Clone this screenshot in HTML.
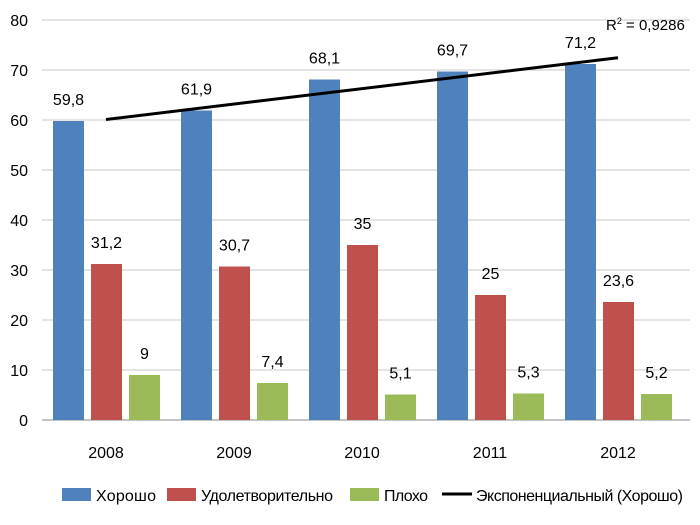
<!DOCTYPE html>
<html><head><meta charset="utf-8">
<style>
body{margin:0;background:#fff;}
svg{display:block;font-family:"Liberation Sans",sans-serif;}
</style></head>
<body>
<svg id="chart" width="700" height="525" viewBox="0 0 700 525">
<g id="grid"></g>
<g id="yticks"></g>
<g id="bars"></g>
<g id="labels"></g>
<g id="xticks"></g>
<g id="trend"></g>
<g font-size="16" fill="#000">
  <rect x="62" y="488" width="29" height="13" fill="#4F81BD"/>
  <text x="96" y="501" transform="scale(1,1)" textLength="60">Хорошо</text>
  <rect x="167" y="488" width="29" height="13" fill="#C0504D"/>
  <text x="201" y="501" textLength="132">Удолетворительно</text>
  <rect x="350" y="488" width="29" height="13" fill="#9BBB59"/>
  <text x="384" y="501" textLength="44">Плохо</text>
  <line x1="442" y1="494" x2="472" y2="494" stroke="#000" stroke-width="3"/>
  <text x="476" y="501" textLength="207">Экспоненциальный (Хорошо)</text>
</g>
<text x="606" y="30" font-size="15" fill="#000">R<tspan font-size="9" dy="-6">2</tspan><tspan dy="6"> = 0,9286</tspan></text>
</svg>
<script>
const categories=["2008","2009","2010","2011","2012"];
const good=[59.8,61.9,68.1,69.7,71.2];
const satisfactory=[31.2,30.7,35,25,23.6];
const bad=[9,7.4,5.1,5.3,5.2];
const goodLabels=["59,8","61,9","68,1","69,7","71,2"];
const satLabels=["31,2","30,7","35","25","23,6"];
const badLabels=["9","7,4","5,1","5,3","5,2"];
const yTicks=[0,10,20,30,40,50,60,70,80];

const NS="http://www.w3.org/2000/svg";
const x0=42,x1=682,yBase=420,yTop=20,yMax=80;
const bw=(x1-x0)/categories.length;
const Y=v=>yBase-(v/yMax)*(yBase-yTop);
const cx=i=>x0+bw*(i+0.5);
function mk(tag,attrs,parent){const e=document.createElementNS(NS,tag);for(const k in attrs)e.setAttribute(k,attrs[k]);parent.appendChild(e);return e;}
const grid=document.getElementById('grid'),yt=document.getElementById('yticks');
yTicks.forEach(t=>{
  const l=mk('line',{x1:x0,x2:690,y1:Y(t),y2:Y(t),stroke:t===0?'#888':'#c8c8c8','stroke-width':1},grid);
  
  
  const tx=mk('text',{x:28,y:Y(t)+6,'text-anchor':'end','font-size':16,fill:'#000'},yt);
  tx.textContent=t;
  
  
});
const bars=document.getElementById('bars'),lab=document.getElementById('labels'),xt=document.getElementById('xticks');
const series=[[good,goodLabels,'#4F81BD','good'],[satisfactory,satLabels,'#C0504D','satisfactory'],[bad,badLabels,'#9BBB59','bad']];
const w=31,gap=7;
categories.forEach((c,i)=>{
  series.forEach((s,j)=>{
    const bx=cx(i)-53+j*(w+gap);
    const v=s[0][i];
    const r=mk('rect',{x:bx,y:Y(v),width:w,height:yBase-Y(v),fill:s[2]},bars);
    
    
    const t=mk('text',{x:bx+w/2,y:Y(v)-16,'text-anchor':'middle','font-size':16,fill:'#000'},lab);
    t.textContent=s[1][i];
    
    
  });
  const t=mk('text',{x:cx(i),y:458,'text-anchor':'middle','font-size':16,fill:'#000'},xt);
  t.textContent=c;
  
  
});
// exponential fit of "good"
const n=good.length;let mx=0,my=0;
good.forEach((v,i)=>{mx+=i;my+=Math.log(v);});mx/=n;my/=n;
let sxy=0,sxx=0;good.forEach((v,i)=>{sxy+=(i-mx)*(Math.log(v)-my);sxx+=(i-mx)*(i-mx);});
const b=sxy/sxx,a=my-b*mx;
const p=mk('line',{x1:cx(0),y1:Y(Math.exp(a)),x2:cx(n-1),y2:Y(Math.exp(a+b*(n-1))),stroke:'#000','stroke-width':3},document.getElementById('trend'));


</script>
</body></html>
